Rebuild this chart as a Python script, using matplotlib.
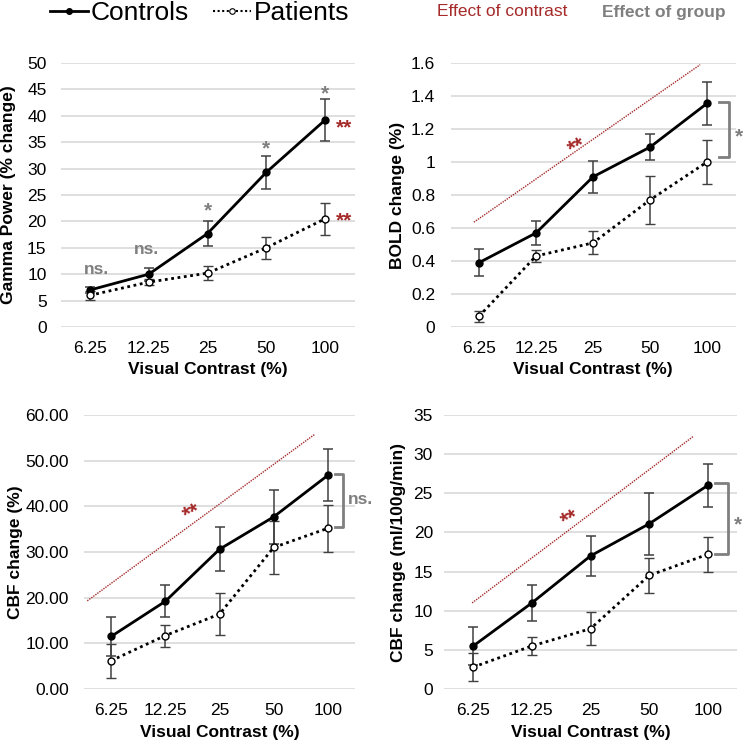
import numpy as np
import matplotlib
matplotlib.use("Agg")
import matplotlib.pyplot as plt
from matplotlib.ticker import FuncFormatter
from matplotlib.lines import Line2D

plt.rcParams["font.family"] = ["Liberation Sans", "DejaVu Sans"]

contrast = ["6.25", "12.25", "25", "50", "100"]

# gamma power (% change)
gamma_ctrl = [7.0, 10.0, 17.7, 29.3, 39.2]
gamma_ctrl_err = [0.5, 1.2, 2.3, 3.1, 4.0]
gamma_pat = [6.0, 8.5, 10.2, 15.0, 20.5]
gamma_pat_err = [0.8, 0.6, 1.3, 2.1, 3.0]

# BOLD change (%)
bold_ctrl = [0.39, 0.57, 0.91, 1.09, 1.355]
bold_ctrl_err = [0.08, 0.075, 0.095, 0.08, 0.13]
bold_pat = [0.065, 0.43, 0.51, 0.77, 1.0]
bold_pat_err = [0.035, 0.035, 0.07, 0.145, 0.135]

# CBF change (%)
cbfp_ctrl = [11.5, 19.2, 30.6, 37.7, 46.8]
cbfp_ctrl_err = [4.2, 3.5, 4.8, 5.9, 5.7]
cbfp_pat = [6.2, 11.7, 16.4, 31.0, 35.2]
cbfp_pat_err = [3.7, 2.4, 4.6, 5.8, 5.2]

# CBF change (ml/100g/min)
cbfa_ctrl = [5.5, 11.0, 17.0, 21.1, 26.0]
cbfa_ctrl_err = [2.4, 2.3, 2.6, 4.0, 2.8]
cbfa_pat = [2.8, 5.5, 7.7, 14.5, 17.2]
cbfa_pat_err = [1.8, 1.2, 2.1, 2.2, 2.2]

# contrast-effect trend lines (x in category units, y in data units)
bold_trend_x, bold_trend_y = [-0.09, 3.88], [0.635, 1.59]
cbfp_trend_x, cbfp_trend_y = [-0.44, 3.76], [19.3, 55.8]
cbfa_trend_x, cbfa_trend_y = [-0.02, 3.76], [11.0, 32.3]

RED = "#A52A2A"
GREY = "#7F7F7F"
W, H = 743, 745
FS = 12.5

fig = plt.figure(figsize=(W / 100, H / 100), dpi=100)


def add_ax(left, right, top, bottom):
    return fig.add_axes([left / W, 1 - bottom / H, (right - left) / W, (bottom - top) / H])


def star(ax, x, y, s, color, size=15, rot=0, weight="bold"):
    ax.annotate(s, (x, y), xytext=(0, -0.55 * size), textcoords="offset points",
                ha="center", va="baseline", color=color, fontsize=size,
                fontweight=weight, rotation=rot, annotation_clip=False)


def panel(ax, ctrl, ctrl_err, pat, pat_err, ymax, ystep, ylabel, fmt, ylab_x, ypad):
    x = np.arange(len(contrast))
    ax.errorbar(x, ctrl, yerr=ctrl_err, color="black", lw=2.0, marker="o", ms=5,
                mfc="black", mec="black", ecolor="#404040", elinewidth=1.1,
                capsize=3.5, capthick=1.1, zorder=3)
    ax.errorbar(x, pat, yerr=pat_err, color="black", lw=2.0, ls=(0, (1, 1.3)),
                marker="o", ms=5, mfc="white", mec="black", mew=1.0,
                ecolor="#404040", elinewidth=1.1, capsize=3.5, capthick=1.1,
                zorder=3)
    ax.set_xlim(-0.5, len(contrast) - 0.5)
    ax.set_ylim(0, ymax)
    ax.set_yticks(np.arange(0, ymax + ystep / 2, ystep))
    ax.yaxis.set_major_formatter(FuncFormatter(fmt))
    ax.set_xticks(x)
    ax.set_xticklabels(contrast)
    ax.grid(axis="y", color="#D9D9D9", lw=1.2, zorder=0)
    ax.set_axisbelow(True)
    for sp in ax.spines.values():
        sp.set_visible(False)
    ax.tick_params(length=0, labelsize=FS, colors="black")
    ax.tick_params(axis="x", pad=10)
    ax.tick_params(axis="y", pad=ypad)
    ax.set_ylabel(ylabel, fontsize=FS, fontweight="bold")
    ax.set_xlabel("Visual Contrast (%)", fontsize=FS, fontweight="bold")
    ax.yaxis.set_label_coords(ylab_x / W, 0.5)
    ax.yaxis.label.set_transform(matplotlib.transforms.blended_transform_factory(fig.transFigure, ax.transAxes))
    ax.xaxis.set_label_coords(0.5, -0.132)


def bracket(ax, x0, x1, y0, y1):
    ax.plot([x0, x1, x1, x0], [y0, y0, y1, y1], color=GREY, lw=2, clip_on=False)


def trend(ax, tx, ty):
    ax.plot(tx, ty, color=RED, lw=1.0, ls=(0, (1, 0.8)), zorder=2)


g = lambda v, p: "{:g}".format(round(v, 2))
f2 = lambda v, p: "{:.2f}".format(v)

# gamma
ax1 = add_ax(60.5, 354.5, 63, 327)
panel(ax1, gamma_ctrl, gamma_ctrl_err, gamma_pat, gamma_pat_err, 50, 5,
      "Gamma Power (% change)", g, 16, 10)
ax1.text(0.11, 10.8, "ns.", color=GREY, fontsize=FS, fontweight="bold", ha="center", va="center")
ax1.text(0.97, 14.6, "ns.", color=GREY, fontsize=FS, fontweight="bold", ha="center", va="center")
star(ax1, 2.0, 23.1, "*", GREY)
star(ax1, 3.0, 34.8, "*", GREY)
star(ax1, 4.0, 45.3, "*", GREY)
star(ax1, 4.32, 38.8, "**", RED)
star(ax1, 4.32, 21.2, "**", RED)

# BOLD
ax2 = add_ax(450.5, 735.5, 63, 327)
panel(ax2, bold_ctrl, bold_ctrl_err, bold_pat, bold_pat_err, 1.6, 0.2,
      "BOLD change (%)", g, 405, 11)
trend(ax2, bold_trend_x, bold_trend_y)
star(ax2, 1.72, 1.115, "**", RED, size=16, rot=25)
bracket(ax2, 4.21, 4.39, 1.364, 1.03)
star(ax2, 4.56, 1.19, "*", GREY)

# CBF %
ax3 = add_ax(84, 355, 415, 689)
panel(ax3, cbfp_ctrl, cbfp_ctrl_err, cbfp_pat, cbfp_pat_err, 60, 10,
      "CBF change (%)", f2, 23, 11)
trend(ax3, cbfp_trend_x, cbfp_trend_y)
star(ax3, 1.49, 39.4, "**", RED, size=16, rot=25)
bracket(ax3, 4.13, 4.28, 47.1, 35.5)
ax3.text(4.37, 41.6, "ns.", color=GREY, fontsize=FS, fontweight="bold", ha="left", va="center")

# CBF absolute
ax4 = add_ax(444, 737, 415, 689)
panel(ax4, cbfa_ctrl, cbfa_ctrl_err, cbfa_pat, cbfa_pat_err, 35, 5,
      "CBF change (ml/100g/min)", g, 406, 8)
trend(ax4, cbfa_trend_x, cbfa_trend_y)
star(ax4, 1.65, 22.2, "**", RED, size=16, rot=25)
bracket(ax4, 4.13, 4.34, 26.3, 17.2)
star(ax4, 4.52, 21.7, "*", GREY)

# legend and key text
handles = [Line2D([], [], color="black", lw=2, marker="o", ms=4, mfc="black"),
           Line2D([], [], color="black", lw=1.5, ls=(0, (1, 1.2)), marker="o", ms=4,
                  mfc="white", mec="black", mew=0.8)]
fig.legend(handles, ["Controls", "Patients"], loc="center left",
           bbox_to_anchor=(50 / W, 1 - 13 / H), ncol=2, frameon=False, fontsize=19,
           borderaxespad=0, borderpad=0, handlelength=1.45, handletextpad=0.1,
           columnspacing=0.9, numpoints=1)
fig.text(437 / W, 1 - 12 / H, "Effect of contrast", color=RED, fontsize=12.5,
         ha="left", va="center")
fig.text(602 / W, 1 - 12 / H, "Effect of group", color=GREY, fontsize=12.5,
         fontweight="bold", ha="left", va="center")

fig.savefig("out.png", dpi=100)
